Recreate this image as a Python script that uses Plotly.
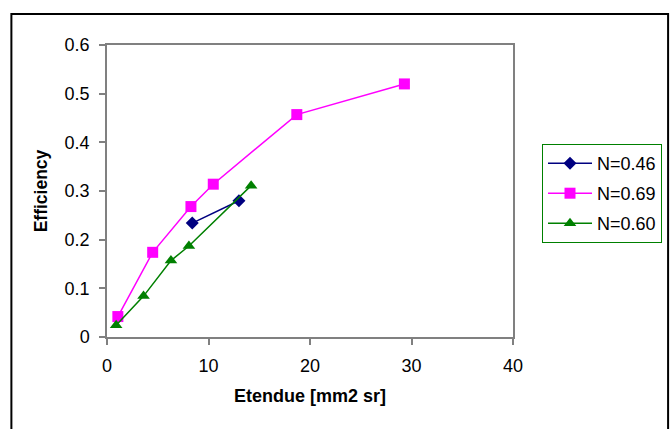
import plotly.graph_objects as go

x_046 = [8.4, 13.0]
y_046 = [0.234, 0.280]
x_069 = [1.07, 4.5, 8.27, 10.47, 18.7, 29.3]
y_069 = [0.042, 0.174, 0.268, 0.314, 0.457, 0.520]
x_060 = [0.9, 3.6, 6.3, 8.07, 14.2]
y_060 = [0.024, 0.084, 0.157, 0.187, 0.311]

xticks = [0, 10, 20, 30, 40]
yticks = [0, 0.1, 0.2, 0.3, 0.4, 0.5, 0.6]
ytick_text = ["0", "0.1", "0.2", "0.3", "0.4", "0.5", "0.6"]

FONT = "Liberation Sans, Arial"

fig = go.Figure()
fig.add_trace(go.Scatter(x=x_046, y=y_046, mode="lines+markers", name="N=0.46", legendgroup="a",
                         line=dict(color="#000080", width=1.5),
                         marker=dict(symbol="diamond", size=10, color="#000080")))
fig.add_trace(go.Scatter(x=x_069, y=y_069, mode="lines+markers", name="N=0.69", legendgroup="b",
                         line=dict(color="#FF00FF", width=1.5),
                         marker=dict(symbol="square", size=11, color="#FF00FF")))
fig.add_trace(go.Scatter(x=x_060, y=y_060, mode="lines+markers", name="N=0.60", legendgroup="c",
                         line=dict(color="#008000", width=1.5),
                         marker=dict(symbol="triangle-up", size=11, color="#008000")))

axis_common = dict(showgrid=False, zeroline=False, showline=True, linecolor="#808080",
                   linewidth=1.5, mirror=True, ticks="outside", ticklen=6,
                   tickcolor="#808080", tickwidth=1.5, ticklabelstandoff=6,
                   tickfont=dict(family=FONT, size=18, color="black"))

fig.update_xaxes(range=[0, 40], tickvals=xticks, **axis_common,
                 title=dict(text="<b>Etendue [mm2 sr]</b>", standoff=14,
                            font=dict(family=FONT, size=18, color="black")))
fig.update_yaxes(range=[0, 0.6], tickvals=yticks, ticktext=ytick_text, **axis_common,
                 title=dict(text="<b>Efficiency</b>", standoff=12,
                            font=dict(family=FONT, size=17.5, color="black")))

fig.update_layout(
    width=670, height=429,
    margin=dict(l=107, r=157, t=45, b=92, autoexpand=False),
    paper_bgcolor="white", plot_bgcolor="white",
    showlegend=True,
    legend=dict(xref="container", yref="container", x=542 / 670, y=1 - 144 / 429,
                xanchor="left", yanchor="top",
                bgcolor="white", bordercolor="#008000", borderwidth=1,
                font=dict(family=FONT, size=18, color="black"),
                itemwidth=44, tracegroupgap=3.6),
    shapes=[dict(type="rect", xref="paper", yref="paper",
                 x0=-0.2355, x1=1.382, y0=-0.32, y1=1.106,
                 line=dict(color="black", width=2), fillcolor="rgba(0,0,0,0)", layer="below")],
)

fig.write_html("out.html")
